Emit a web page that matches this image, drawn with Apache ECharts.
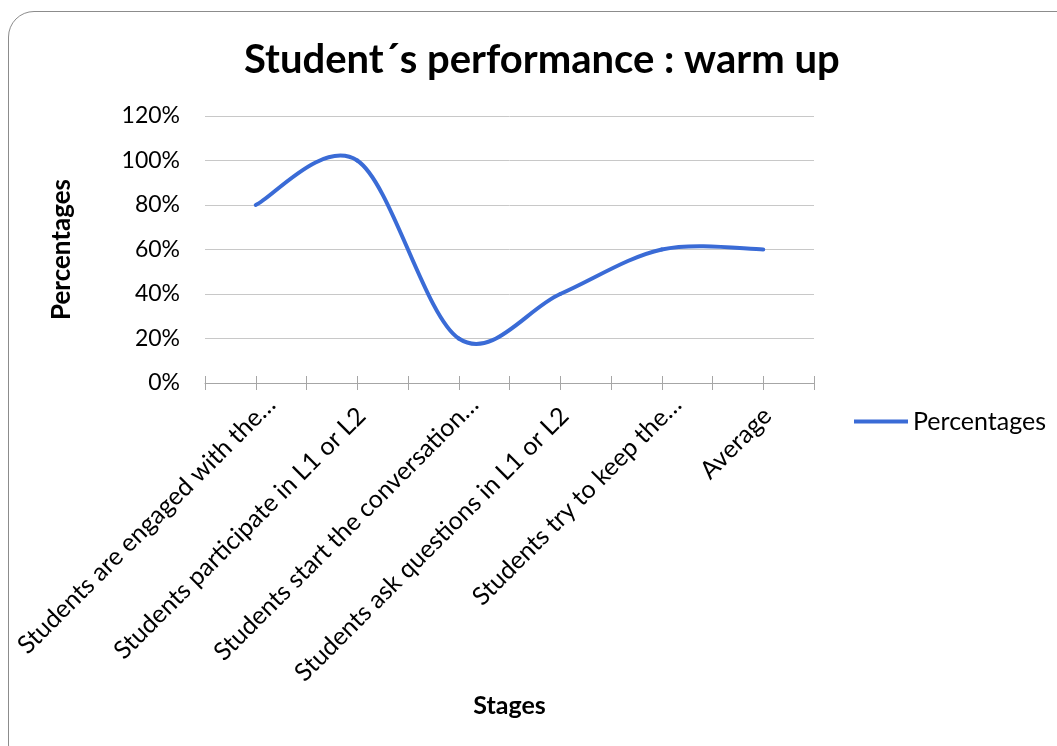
<!DOCTYPE html>
<html>
<head>
<meta charset="utf-8">
<script src="https://cdn.jsdelivr.net/npm/echarts@6/dist/echarts.min.js"></script>
<style>
  html, body { margin: 0; padding: 0; background: #fff; overflow: hidden; }
  #frame { position: absolute; left: 8px; top: 11px; width: 1080px; height: 760px;
           border: 1px solid #8c8c8c; border-radius: 26px; box-sizing: border-box; }
  #chart { position: absolute; left: 0; top: 0; width: 1057px; height: 746px; }
</style>
</head>
<body>
<div id="frame"></div>
<div id="chart"></div>
<script>
// Stages of the warm-up activity and the share of students meeting each one
const stages = [
  'Students are engaged with the\u2026',
  'Students participate in L1 or L2',
  'Students start the conversation\u2026',
  'Students ask questions in L1 or L2',
  'Students try to keep the\u2026',
  'Average'
];
const percentages = [80, 100, 20, 40, 60, 60];
const yTicks = [0, 20, 40, 60, 80, 100, 120];

const FONT = 'Lato';
const LINE_COLOR = '#3a6bd6';
const TICK_LEN = 7;
const chart = echarts.init(document.getElementById('chart'), null, { renderer: 'canvas' });

// shortened stage names sit a little further along their slant
const stageItems = stages.map(s => ({
  value: s,
  textStyle: { padding: [0, s.endsWith('\u2026') ? -22 : -6, 0, 0] }
}));

// extra category axes only draw tick marks, so that every tick crosses the
// axis line, both at category boundaries and at category centres
function tickAxis(alignWithLabel, inside) {
  return {
    type: 'category', data: stages, position: 'bottom', boundaryGap: true,
    axisLine: { show: false }, axisLabel: { show: false, interval: 0 }, splitLine: { show: false },
    axisTick: { show: true, interval: 0, alignWithLabel: alignWithLabel, inside: inside, length: TICK_LEN,
                lineStyle: { color: '#a6a6a6', width: 1 } }
  };
}

// point on the axes for data index i (ends repeat the first/last point)
function pt(api, i) {
  const j = Math.max(0, Math.min(percentages.length - 1, i));
  return api.coord([j, percentages[j]]);
}

// one smoothed segment (Catmull-Rom as cubic Bezier) from point i to i+1
function renderSegment(params, api) {
  const i = params.dataIndex;
  if (i >= percentages.length - 1) return null;
  const p0 = pt(api, i - 1), p1 = pt(api, i), p2 = pt(api, i + 1), p3 = pt(api, i + 2);
  return {
    type: 'bezierCurve',
    shape: {
      x1: p1[0], y1: p1[1],
      cpx1: p1[0] + (p2[0] - p0[0]) / 6, cpy1: p1[1] + (p2[1] - p0[1]) / 6,
      cpx2: p2[0] - (p3[0] - p1[0]) / 6, cpy2: p2[1] - (p3[1] - p1[1]) / 6,
      x2: p2[0], y2: p2[1]
    },
    style: { stroke: LINE_COLOR, lineWidth: 4, fill: null, lineCap: 'round' }
  };
}

chart.setOption({
  animation: false,
  textStyle: { fontFamily: FONT },
  title: {
    text: 'Student\u00b4s performance : warm up',
    left: 239, top: 35,
    textStyle: { fontFamily: FONT, fontWeight: 'bold', fontSize: 40, color: '#000' }
  },
  legend: {
    data: ['Percentages'], left: 849, top: 404, icon: 'rect',
    itemWidth: 54, itemHeight: 4, itemGap: 3,
    textStyle: { fontFamily: FONT, fontSize: 25, color: '#000' }
  },
  grid: { left: 205, right: 243, top: 116, bottom: 363, containLabel: false, outerBoundsMode: 'none' },
  xAxis: [
    {
      type: 'category', data: stageItems, boundaryGap: true,
      name: 'Stages', nameLocation: 'middle', nameGap: 310,
      nameTextStyle: { fontFamily: FONT, fontWeight: 'bold', fontSize: 25, color: '#000' },
      axisLine: { show: true, lineStyle: { color: '#a6a6a6', width: 1 } },
      axisTick: { show: true, interval: 0, length: TICK_LEN, lineStyle: { color: '#a6a6a6', width: 1 } },
      axisLabel: { rotate: 45, margin: 33, fontFamily: FONT, fontSize: 25,
                   color: '#000', interval: 0 },
      splitLine: { show: false }
    },
    tickAxis(false, true),
    tickAxis(true, false),
    tickAxis(true, true)
  ],
  yAxis: {
    type: 'value', min: yTicks[0], max: yTicks[yTicks.length - 1], interval: yTicks[1] - yTicks[0],
    name: 'Percentages', nameLocation: 'middle', nameRotate: 90, nameGap: 130,
    nameTextStyle: { fontFamily: FONT, fontWeight: 'bold', fontSize: 26, color: '#000' },
    axisLine: { show: false }, axisTick: { show: false },
    axisLabel: { margin: 25, fontFamily: FONT, fontSize: 23, color: '#000',
                 formatter: v => v + '%' },
    splitLine: { show: true, lineStyle: { color: '#c8c8c8', width: 1 } }
  },
  series: [{
    name: 'Percentages', type: 'custom', coordinateSystem: 'cartesian2d',
    data: percentages.map((v, i) => [i, v]),
    encode: { x: 0, y: 1 },
    renderItem: renderSegment,
    itemStyle: { color: LINE_COLOR },
    clip: false
  }]
});
</script>
</body>
</html>
